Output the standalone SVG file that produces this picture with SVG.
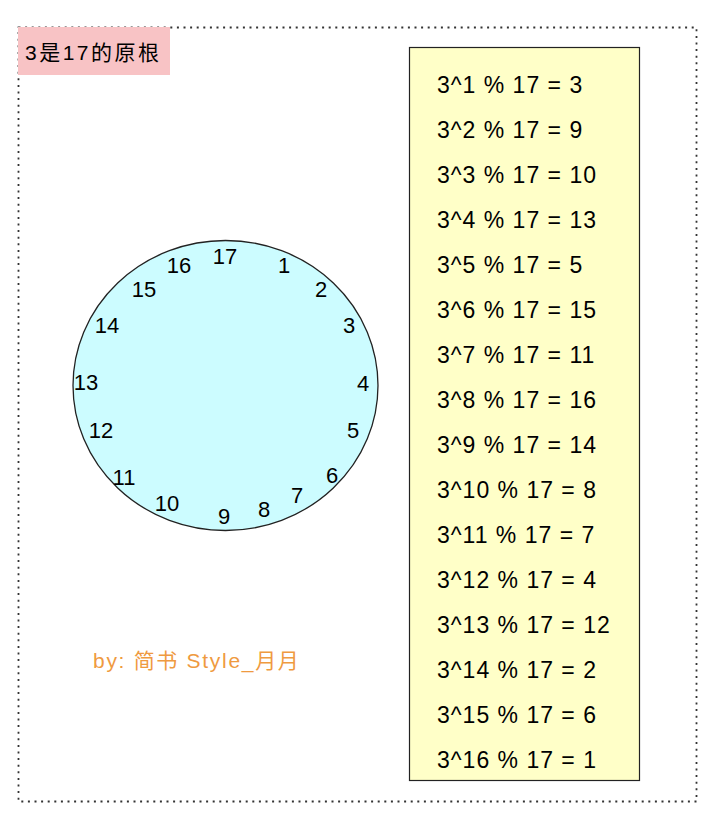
<svg xmlns="http://www.w3.org/2000/svg" width="718" height="820" viewBox="0 0 718 820">
<style>
text{font-family:"Liberation Sans","Noto Sans CJK SC",sans-serif;fill:#000}
.n{font-size:22px;text-anchor:middle;dominant-baseline:central}
.r{font-size:23px;letter-spacing:1px;dominant-baseline:central}
</style>
<rect width="718" height="820" fill="#fff"/>
<g id="frame">
<rect x="18.5" y="27.5" width="678" height="774" fill="none" stroke="#333" stroke-width="1.8" stroke-dasharray="2 4.6"/>
</g>
<g id="title">
<rect x="18" y="27" width="152" height="48" fill="#f8c3c5"/>
<text x="25" y="52" style="font-size:21px;letter-spacing:2.5px;dominant-baseline:central">3是17的原根</text>
</g>
<g id="clock">
<ellipse cx="225.5" cy="385.5" rx="152.5" ry="145" fill="#ccfcff" stroke="#222" stroke-width="1.3"/>
<text class="n" x="225" y="256">17</text>
<text class="n" x="284" y="265">1</text>
<text class="n" x="321" y="289">2</text>
<text class="n" x="349" y="325">3</text>
<text class="n" x="363" y="383">4</text>
<text class="n" x="353" y="430">5</text>
<text class="n" x="332" y="475">6</text>
<text class="n" x="297" y="495">7</text>
<text class="n" x="264" y="509">8</text>
<text class="n" x="224" y="516">9</text>
<text class="n" x="167" y="503">10</text>
<text class="n" x="124" y="477">11</text>
<text class="n" x="101" y="430">12</text>
<text class="n" x="86" y="382">13</text>
<text class="n" x="107" y="325">14</text>
<text class="n" x="144" y="289">15</text>
<text class="n" x="179" y="265">16</text>
</g>
<g id="table">
<rect x="409.5" y="47.5" width="230" height="733" fill="#ffffc8" stroke="#222" stroke-width="1.2"/>
<text class="r" x="437" y="85">3^1 % 17 = 3</text>
<text class="r" x="437" y="130">3^2 % 17 = 9</text>
<text class="r" x="437" y="175">3^3 % 17 = 10</text>
<text class="r" x="437" y="220">3^4 % 17 = 13</text>
<text class="r" x="437" y="265">3^5 % 17 = 5</text>
<text class="r" x="437" y="310">3^6 % 17 = 15</text>
<text class="r" x="437" y="355">3^7 % 17 = 11</text>
<text class="r" x="437" y="400">3^8 % 17 = 16</text>
<text class="r" x="437" y="445">3^9 % 17 = 14</text>
<text class="r" x="437" y="490">3^10 % 17 = 8</text>
<text class="r" x="437" y="535">3^11 % 17 = 7</text>
<text class="r" x="437" y="580">3^12 % 17 = 4</text>
<text class="r" x="437" y="625">3^13 % 17 = 12</text>
<text class="r" x="437" y="670">3^14 % 17 = 2</text>
<text class="r" x="437" y="715">3^15 % 17 = 6</text>
<text class="r" x="437" y="760">3^16 % 17 = 1</text>
</g>
<g id="signature">
<text x="93" y="660" style="font-size:21px;letter-spacing:1.7px;fill:#ef9a40;dominant-baseline:central">by: 简书 Style_月月</text>
</g>
</svg>
